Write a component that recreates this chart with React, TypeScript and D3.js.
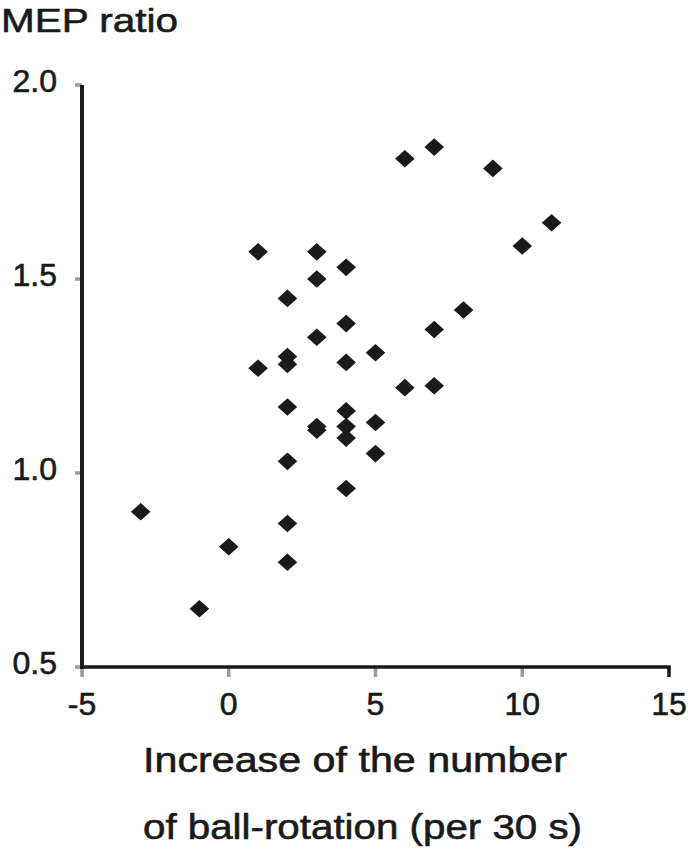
import React from 'react'
import * as d3 from 'd3'

// increase of ball-rotation count (per 30 s) and MEP ratio, one entry per subject
const increase = [
  -3, -1, 0,
  1, 1,
  2, 2, 2, 2, 2, 2, 2,
  3, 3, 3, 3, 3,
  4, 4, 4, 4, 4, 4, 4,
  5, 5, 5,
  6, 6,
  7, 7, 7,
  8, 9, 10, 11,
]
const mepRatio = [
  0.90, 0.65, 0.81,
  1.57, 1.27,
  1.45, 1.30, 1.28, 1.17, 1.03, 0.87, 0.77,
  1.57, 1.50, 1.35, 1.12, 1.11,
  1.53, 1.385, 1.285, 1.16, 1.12, 1.09, 0.96,
  1.31, 1.13, 1.05,
  1.81, 1.22,
  1.84, 1.37, 1.225,
  1.42, 1.785, 1.585, 1.645,
]

const xTicks = [-5, 0, 5, 10, 15]
const yTicks = [0.5, 1.0, 1.5, 2.0]

const width = 688
const height = 853
const ink = '#1a1a1a'
const tickGray = '#9a9a9a'
const font = '"Liberation Sans", Arial, sans-serif'

const App = () => {
  const x = d3.scaleLinear().domain([-5, 15]).range([82, 669])
  const y = d3.scaleLinear().domain([0.5, 2.0]).range([667, 85])

  const points = increase.map((v, i) => ({ x: v, y: mepRatio[i] }))
  const diamond = (cx: number, cy: number) =>
    `M${cx},${cy - 8.8}L${cx + 9.8},${cy}L${cx},${cy + 8.8}L${cx - 9.8},${cy}Z`

  // text in the figure is a touch heavier than plain Arial
  const textStyle = { stroke: ink, strokeWidth: 0.6 }

  return (
    <svg
      width={width}
      height={height}
      style={{ position: 'absolute', left: 0, top: 0, background: '#fff' }}
      fontFamily={font}
    >
      {/* y axis ticks (grey, outside) */}
      {yTicks.map(t => (
        <line key={'yt' + t} x1={75} x2={x(-5)} y1={y(t)} y2={y(t)}
          stroke={tickGray} strokeWidth={3.5} />
      ))}
      {/* x axis ticks (grey, below) */}
      {xTicks.slice(0, -1).map(t => (
        <line key={'xt' + t} x1={x(t)} x2={x(t)} y1={y(0.5)} y2={y(0.5) + 10}
          stroke={tickGray} strokeWidth={3.5} />
      ))}
      <line x1={x(15)} x2={x(15)} y1={y(0.5)} y2={y(0.5) + 10} stroke={ink} strokeWidth={3.5} />

      {/* axes */}
      <line x1={x(-5)} x2={x(-5)} y1={y(2.0)} y2={y(0.5) + 2} stroke={ink} strokeWidth={4} />
      <line x1={x(-5) - 2} x2={x(15) + 1.75} y1={y(0.5)} y2={y(0.5)} stroke={ink} strokeWidth={3.5} />

      {/* tick labels */}
      {yTicks.map(t => (
        <text key={'yl' + t} x={57} y={y(t) + 7} textAnchor="end" fontSize={32} fill={ink} style={textStyle}>
          {d3.format('.1f')(t)}
        </text>
      ))}
      {xTicks.map(t => (
        <text key={'xl' + t} x={x(t)} y={715} textAnchor="middle" fontSize={32} fill={ink} style={textStyle}>
          {t}
        </text>
      ))}

      {/* points */}
      {points.map((p, i) => (
        <path key={i} d={diamond(x(p.x), y(p.y))} fill={ink} />
      ))}

      {/* titles */}
      <text x={1} y={32} fontSize={34} fill={ink} style={textStyle} textLength={177} lengthAdjust="spacingAndGlyphs">
        MEP ratio
      </text>
      <text x={143} y={772} fontSize={35} fill={ink} style={textStyle} textLength={424} lengthAdjust="spacingAndGlyphs">
        Increase of the number
      </text>
      <text x={143} y={839} fontSize={35} fill={ink} style={textStyle} textLength={439} lengthAdjust="spacingAndGlyphs">
        of ball-rotation (per 30 s)
      </text>
    </svg>
  )
}

export default App
